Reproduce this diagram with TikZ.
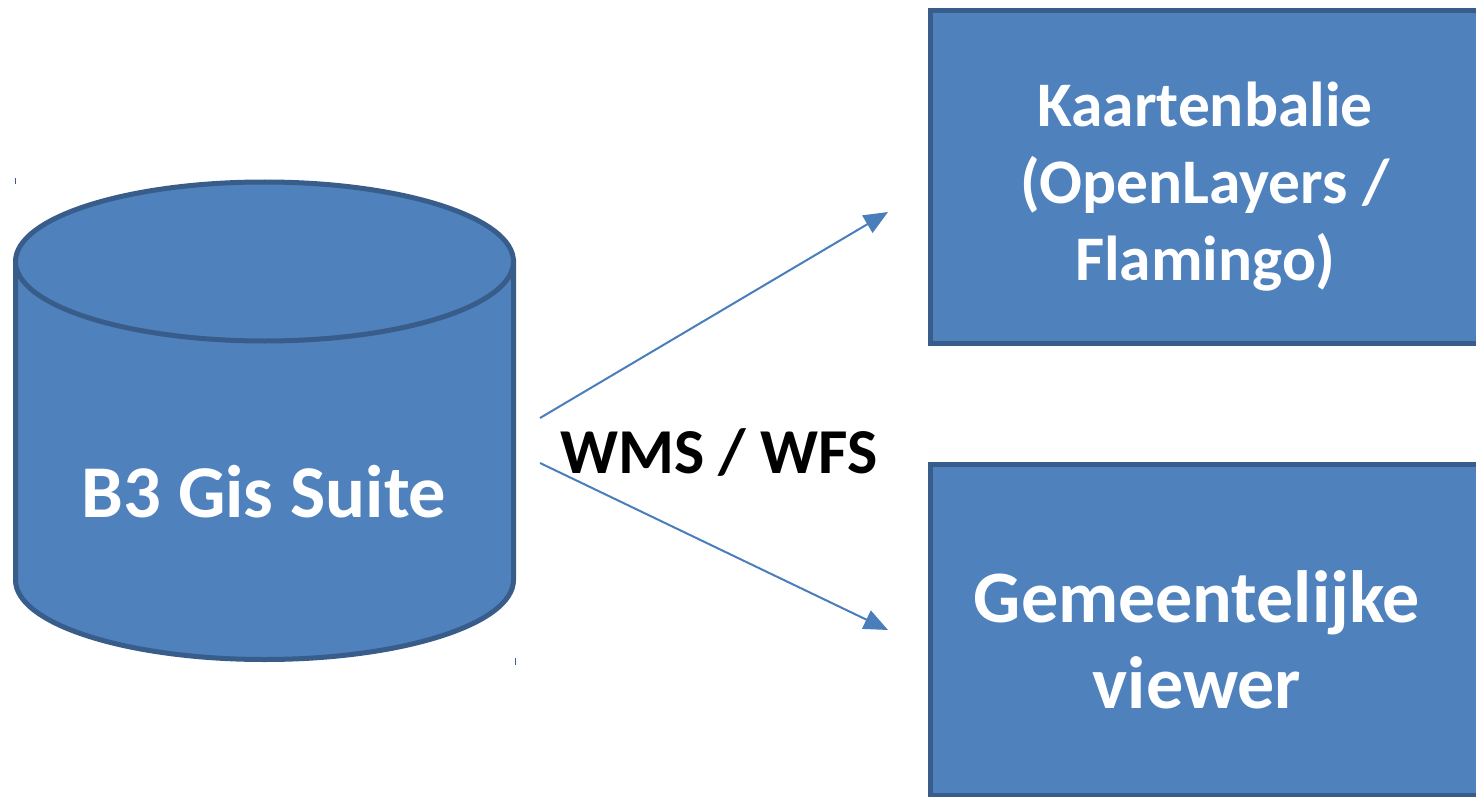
\documentclass[tikz,border=0pt]{standalone}
\usepackage{fontspec}
\setmainfont{Carlito}
\usetikzlibrary{arrows.meta}
\definecolor{fillblue}{HTML}{4F81BD}
\definecolor{edgeblue}{HTML}{385D8A}
\definecolor{arrowblue}{HTML}{4A7EBB}
\tikzset{
  box/.style={draw=edgeblue, fill=fillblue, line width=5pt},
  cyl/.style={draw=edgeblue, fill=fillblue, line width=5pt},
  label/.style={text=white, font=\bfseries, align=center},
  conn/.style={draw=arrowblue, line width=2pt, -{Triangle[length=24pt,width=20pt]}},
}
\begin{document}
\begin{tikzpicture}[x=1pt,y=-1pt]
\useasboundingbox (0,0) rectangle (1476,797);
% boxes
\draw[box] (930.5,10.5) rectangle (1482,343.5);
\draw[box] (930.5,464) rectangle (1482,795.5);
% cylinder
\path[cyl] (15.5,261.5) -- (15.5,580) arc[start angle=180,end angle=360,x radius=249pt,y radius=79.5pt] -- (513.5,261.5) -- cycle;
\draw[cyl] (264.5,261.5) ellipse [x radius=249pt, y radius=79.5pt];
\draw[edgeblue, line width=1pt] (15,178) -- (15,184);
\draw[edgeblue, line width=1pt] (515,658) -- (515,665);
% labels
\node[label, font=\bfseries\fontsize{74.5}{86}\selectfont] (db) at (264,492) {B3 Gis Suite};
\node[label, font=\bfseries\fontsize{63.5}{77}\selectfont] (kb) at (1205,187) {Kaartenbalie\\(OpenLayers /\\Flamingo)};
\node[label, font=\bfseries\fontsize{74}{86}\selectfont] (gv) at (1197,640) {Gemeentelijke\\viewer};
\node[font=\bfseries\fontsize{64}{72}\selectfont, text=black] (wms) at (719,452) {WMS / WFS};
% connectors
\coordinate (s1) at (540,418);
\coordinate (e1) at (888,212);
\coordinate (s2) at (540,463);
\coordinate (e2) at (888,630);
\draw[conn] (s1) -- (e1);
\draw[conn] (s2) -- (e2);
\end{tikzpicture}
\end{document}
